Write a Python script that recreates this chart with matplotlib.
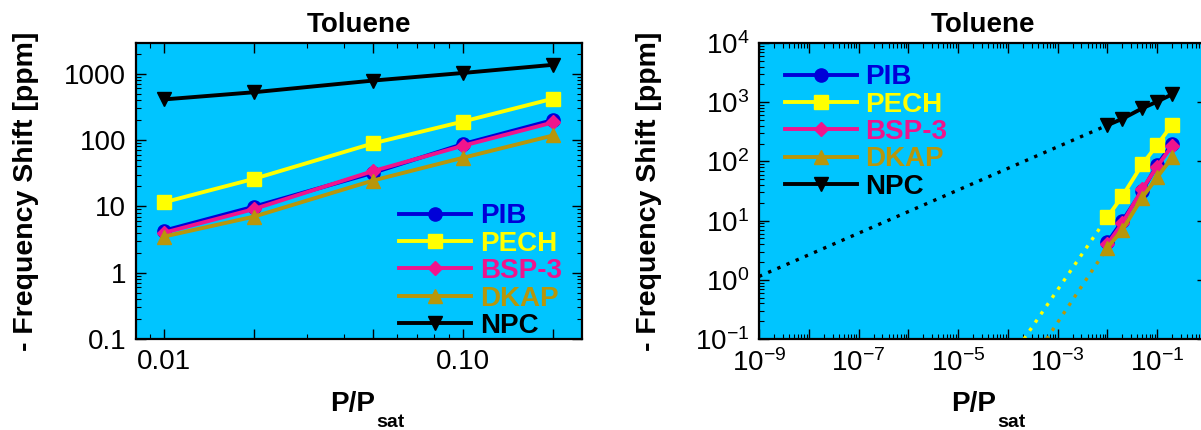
import numpy as np
import matplotlib
matplotlib.use("Agg")
import matplotlib.pyplot as plt
from matplotlib.ticker import FixedLocator, FixedFormatter, LogLocator, NullFormatter

plt.rcParams["font.family"] = ["Liberation Sans", "DejaVu Sans"]
plt.rcParams["mathtext.fontset"] = "custom"
plt.rcParams["mathtext.rm"] = "Liberation Sans"
plt.rcParams["mathtext.it"] = "Liberation Sans:italic"
plt.rcParams["mathtext.bf"] = "Liberation Sans:bold"

# ---- data ----
p_rel = [0.01, 0.02, 0.05, 0.10, 0.20]
pib = [4.3, 9.9, 32, 87, 200]
pech = [11.5, 26, 89, 190, 420]
bsp3 = [4.0, 9.1, 34, 82, 184]
dkap = [3.5, 7.0, 24.5, 54, 117]
npc = [409, 525, 787, 1025, 1360]

# dotted power-law extrapolations (end points)
npc_fit_x = [1e-9, 1e-2]
npc_fit_y = [1.14, 409]
pech_fit_x = [2.1e-4, 1e-2]
pech_fit_y = [0.1, 11.5]
dkap_fit_x = [6.0e-4, 1e-2]
dkap_fit_y = [0.1, 3.5]

names = ["PIB", "PECH", "BSP-3", "DKAP", "NPC"]
series = [pib, pech, bsp3, dkap, npc]
colors = ["#0000D8", "#FFFF00", "#F0148C", "#B8960A", "#000000"]
markers = ["o", "s", "D", "^", "v"]
msizes = [9.5, 10, 7, 10, 10]

BG = "#00C5FF"
FS = 20
W, H = 1201, 430


def draw_series(ax):
    for name, y, c, m, ms in zip(names, series, colors, markers, msizes):
        ax.plot(p_rel, y, color=c, marker=m, markersize=ms, lw=2.8,
                label=name, zorder=3)


def style_axes(ax, ylabelpad):
    ax.set_facecolor(BG)
    for s in ax.spines.values():
        s.set_linewidth(1.6)
    ax.tick_params(which="both", direction="in", top=True, right=True,
                   labelsize=FS, color="black")
    ax.tick_params(which="major", length=7, width=1.0, pad=7)
    ax.tick_params(which="minor", length=3.5, width=0.8)
    ax.set_title("Toluene", fontsize=FS, fontweight="bold", pad=8)
    ax.set_ylabel("- Frequency Shift [ppm]", fontsize=FS + 0.5,
                  fontweight="bold", labelpad=ylabelpad)


def add_xlabel(x_px):
    # "P/P" with a deeply dropped "sat" subscript, as in the reference
    fig.text(x_px / W, (H - 411) / H, "P/P", fontsize=FS, fontweight="bold",
             ha="right", va="baseline")
    fig.text((x_px + 1) / W, (H - 427) / H, "sat", fontsize=14,
             fontweight="bold", ha="left", va="baseline")


def add_legend(ax, **kw):
    leg = ax.legend(frameon=False, prop={"size": FS, "weight": "bold"},
                    handlelength=2.6, handletextpad=0.3, labelspacing=0.05,
                    borderpad=0, borderaxespad=0, **kw)
    for t, c in zip(leg.get_texts(), colors):
        t.set_color(c)
    return leg


fig = plt.figure(figsize=(W / 100, H / 100), dpi=100)

# ---- left panel ----
ax1 = fig.add_axes([136 / W, 91 / H, 446 / W, 296 / H])
draw_series(ax1)
ax1.set_xscale("log")
ax1.set_yscale("log")
ax1.set_xlim(0.00806, 0.25)
ax1.set_ylim(0.1, 2900)
ax1.xaxis.set_major_locator(FixedLocator(p_rel))
ax1.xaxis.set_major_formatter(FixedFormatter(["0.01", "", "", "0.10", ""]))
ax1.xaxis.set_minor_locator(FixedLocator([0.009, 0.03, 0.04, 0.06, 0.07, 0.08, 0.09]))
ax1.xaxis.set_minor_formatter(NullFormatter())
ax1.yaxis.set_major_locator(FixedLocator([0.1, 1, 10, 100, 1000]))
ax1.yaxis.set_major_formatter(FixedFormatter(["0.1", "1", "10", "100", "1000"]))
ax1.yaxis.set_minor_locator(LogLocator(base=10, subs=np.arange(2, 10)))
ax1.yaxis.set_minor_formatter(NullFormatter())
style_axes(ax1, 18)
add_legend(ax1, loc="lower left", bbox_to_anchor=(0.59, 0.0))
add_xlabel(375)

# ---- right panel ----
ax2 = fig.add_axes([759 / W, 91 / H, 448 / W, 296 / H])
dots = (0, (1, 2))
ax2.plot(npc_fit_x, npc_fit_y, ls=dots, color="black", lw=2.4, zorder=2)
ax2.plot(pech_fit_x, pech_fit_y, ls=dots, color=colors[1], lw=2.4, zorder=2)
ax2.plot(dkap_fit_x, dkap_fit_y, ls=dots, color=colors[3], lw=2.4, zorder=2)
draw_series(ax2)
ax2.set_xscale("log")
ax2.set_yscale("log")
ax2.set_xlim(1e-9, 1e0)
ax2.set_ylim(1e-1, 1e4)
xexp = np.arange(-9, 1)
ax2.xaxis.set_major_locator(FixedLocator(10.0 ** xexp))
ax2.xaxis.set_major_formatter(FixedFormatter(
    [r"$10^{%d}$" % e if e % 2 else "" for e in xexp]))
ax2.xaxis.set_minor_locator(LogLocator(base=10, subs=np.arange(2, 10), numticks=20))
ax2.xaxis.set_minor_formatter(NullFormatter())
yexp = np.arange(-1, 5)
ax2.yaxis.set_major_locator(FixedLocator(10.0 ** yexp))
ax2.yaxis.set_major_formatter(FixedFormatter([r"$10^{%d}$" % e for e in yexp]))
ax2.yaxis.set_minor_locator(LogLocator(base=10, subs=np.arange(2, 10), numticks=20))
ax2.yaxis.set_minor_formatter(NullFormatter())
style_axes(ax2, 24)
add_legend(ax2, loc="upper left", bbox_to_anchor=(0.058, 0.928))
add_xlabel(996)

fig.savefig("out.png", dpi=100)
